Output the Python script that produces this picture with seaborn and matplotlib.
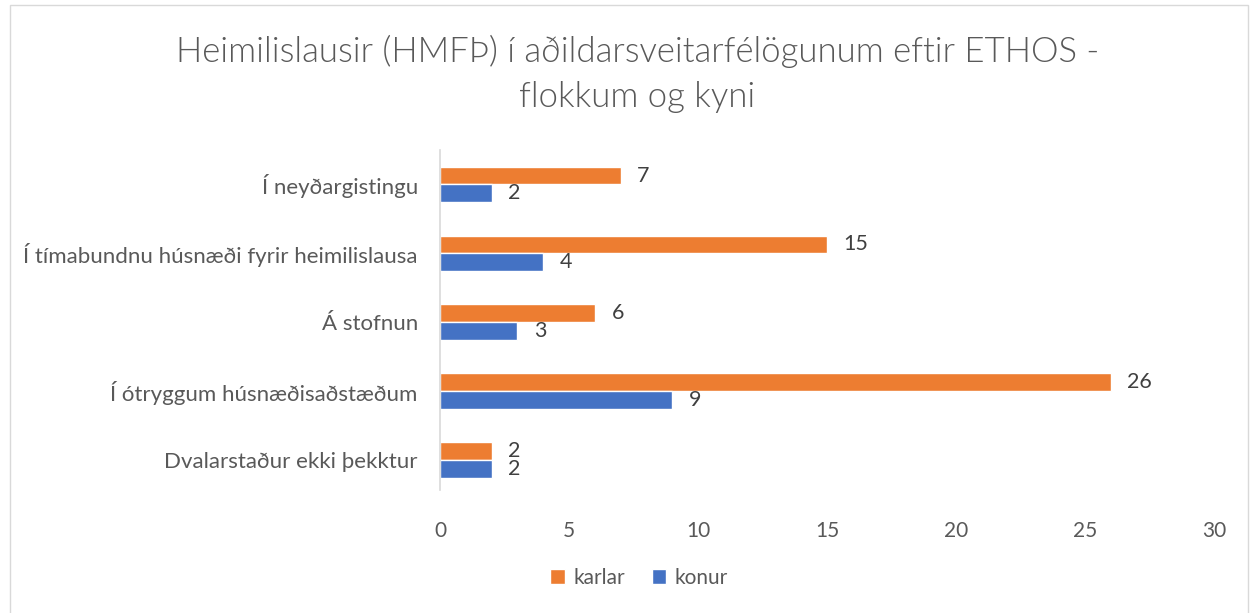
import pandas as pd
import matplotlib.pyplot as plt
import seaborn as sns
from matplotlib.patches import Rectangle

# data
categories = ['Í neyðargistingu',
              'Í tímabundnu húsnæði fyrir heimilislausa',
              'Á stofnun',
              'Í ótryggum húsnæðisaðstæðum',
              'Dvalarstaður ekki þekktur']
karlar = [7, 15, 6, 26, 2]
konur = [2, 4, 3, 9, 2]
series = ['karlar', 'konur']
colors = ['#ED7D31', '#4472C4']

df = pd.DataFrame({
    'flokkur': categories * 2,
    'kyn': ['karlar'] * len(categories) + ['konur'] * len(categories),
    'fjoldi': karlar + konur,
})

sns.set_theme(style='white')
plt.rcParams['font.family'] = ['Lato', 'DejaVu Sans']

fig = plt.figure(figsize=(12.52, 6.13), dpi=100)
ax = fig.add_axes([440 / 1252, 1 - 490 / 613, 774 / 1252, 340 / 613])

sns.barplot(data=df, x='fjoldi', y='flokkur', hue='kyn', hue_order=series,
            order=categories, palette=colors, width=0.52, orient='h',
            saturation=1, ax=ax, legend=True)

for cont in ax.containers:
    ax.bar_label(cont, padding=12, fontsize=15.5, color='#404040')

ax.set_xlim(0, 30)
ax.set_ylim(4.43, -0.5)
ax.set_xticks(range(0, 31, 5))
ax.set_xlabel('')
ax.set_ylabel('')
ax.tick_params(axis='both', length=0, labelcolor='#595959')
ax.tick_params(axis='x', pad=22, labelsize=15)
ax.tick_params(axis='y', pad=16, labelsize=16)
for s in ['top', 'right', 'bottom']:
    ax.spines[s].set_visible(False)
ax.spines['left'].set_color('#D9D9D9')
ax.spines['left'].set_linewidth(1.2)

handles, labels = ax.get_legend_handles_labels()
ax.legend_.remove()
fig.legend(handles, labels, loc='center', bbox_to_anchor=(639 / 1252, 1 - 578 / 613),
           ncol=2, frameon=False, fontsize=15, labelcolor='#595959',
           handlelength=0.7, handleheight=0.7, handletextpad=0.4, columnspacing=1.3)

fig.text(0.509, 1 - 74 / 613, 'Heimilislausir (HMFÞ) í aðildarsveitarfélögunum eftir ETHOS -\nflokkum og kyni',
         ha='center', va='center', fontsize=25, color='#595959', fontweight=300,
         linespacing=1.5)

fig.patches.append(Rectangle((10 / 1252, -0.01), 1238 / 1252, 1 - 5 / 613 + 0.01,
                             transform=fig.transFigure, fill=False,
                             edgecolor='#D9D9D9', linewidth=1))

fig.savefig('out.png', dpi=100)
